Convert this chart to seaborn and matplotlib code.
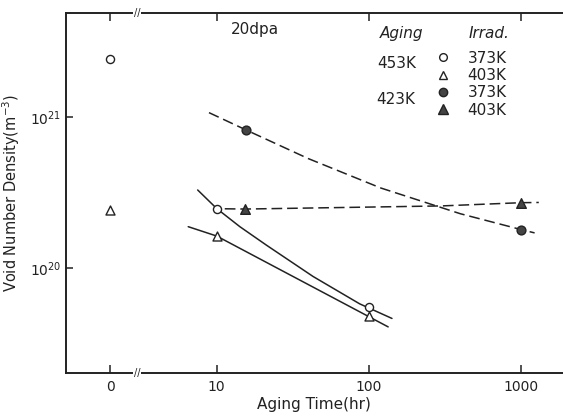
import matplotlib
matplotlib.use("Agg")
import matplotlib.pyplot as plt
import matplotlib.transforms as mtransforms
from matplotlib.lines import Line2D
import numpy as np
import seaborn as sns

sns.set_style("ticks")
plt.rcParams["font.family"] = ["DejaVu Sans"]

# measured points (aging time in hr, void number density in m^-3)
t_453_373 = [0, 10, 100]
n_453_373 = [2.42e21, 2.48e20, 5.5e19]
t_453_403 = [0, 10, 100]
n_453_403 = [2.42e20, 1.63e20, 4.8e19]
t_423_373 = [15.5, 1000]
n_423_373 = [8.2e20, 1.8e20]
t_423_403 = [15.4, 1000]
n_423_403 = [2.46e20, 2.71e20]

# guide curves
fit_453_373_t = [7.5, 10, 14.2, 21.2, 43, 87, 142]
fit_453_373_n = [3.29e20, 2.48e20, 1.88e20, 1.42e20, 8.8e19, 5.8e19, 4.64e19]
fit_453_403_t = [6.5, 10, 134]
fit_453_403_n = [1.88e20, 1.63e20, 4.08e19]
fit_423_373_t = [8.9, 15.5, 40, 120, 400, 1000, 1230]
fit_423_373_n = [1.07e21, 8.24e20, 5.31e20, 3.39e20, 2.29e20, 1.8e20, 1.71e20]
fit_423_403_t = [11.3, 15.4, 300, 1000, 1310]
fit_423_403_n = [2.47e20, 2.46e20, 2.58e20, 2.71e20, 2.72e20]

x_ticks = [0, 10, 100, 1000]
x_tick_labels = ["0", "10", "100", "1000"]
legend_labels = ["373K", "403K", "373K", "403K"]

ZERO_POS = 2.0  # where t=0 sits on the broken log axis
INK = "#222222"


def xpos(t):
    t = np.asarray(t, dtype=float)
    return np.where(t == 0, ZERO_POS, t)


fig = plt.figure(figsize=(5.63, 4.16), dpi=100)
ax = fig.add_axes([0.117, 0.1034, 0.883, 0.8654])
ax.set_xscale("log")
ax.set_yscale("log")

# guide lines
solid = dict(color=INK, lw=1.1, ax=ax)
sns.lineplot(x=fit_453_373_t, y=fit_453_373_n, **solid)
sns.lineplot(x=fit_453_403_t, y=fit_453_403_n, **solid)
dashed = dict(color=INK, lw=1.1, linestyle=(0, (7, 3.2)), ax=ax)
sns.lineplot(x=fit_423_373_t, y=fit_423_373_n, **dashed)
sns.lineplot(x=fit_423_403_t, y=fit_423_403_n, **dashed)

# points
series = [
    (t_453_373, n_453_373, "o", "white", 34),
    (t_453_403, n_453_403, "^", "white", 42),
    (t_423_373, n_423_373, "o", "#444444", 40),
    (t_423_403, n_423_403, "^", "#444444", 48),
]
handles = []
for t, n, m, fc, s in series:
    sns.scatterplot(x=xpos(t), y=n, marker=m, s=s, facecolor=fc,
                    edgecolor=INK, linewidth=1.0, zorder=3, ax=ax)
    handles.append(Line2D([], [], ls="none", marker=m, markersize=np.sqrt(s) * 0.95,
                          markerfacecolor=fc, markeredgecolor=INK, markeredgewidth=1.0))

ax.set_xlim(1.02, 1890)
ax.set_ylim(2.02e19, 4.89e21)

ax.set_xticks(xpos(x_ticks))
ax.set_xticklabels(x_tick_labels)
ax.xaxis.set_minor_locator(matplotlib.ticker.NullLocator())
ax.yaxis.set_minor_locator(matplotlib.ticker.NullLocator())
ax.set_yticks([1e20, 1e21])
ax.tick_params(axis="x", direction="in", top=True, length=6, width=1.1,
               labelsize=10, pad=5, colors=INK)
ax.tick_params(axis="y", direction="in", length=5, width=1.1, labelsize=10,
               pad=3, colors=INK)

for side in ["left", "top", "bottom"]:
    ax.spines[side].set_linewidth(1.4)
    ax.spines[side].set_color(INK)
ax.spines["right"].set_visible(False)

# axis break marks
brk = mtransforms.blended_transform_factory(ax.transData, ax.transAxes)
for yy in (0, 1):
    ax.text(3.0, yy, "//", transform=brk, ha="center", va="center", fontsize=7,
            color=INK, bbox=dict(facecolor="white", edgecolor="none", pad=0.5))

ax.set_xlabel("Aging Time(hr)", fontsize=11, color=INK, labelpad=2)
ax.set_ylabel("Void Number Density(m$^{-3}$)", fontsize=10.5, color=INK, labelpad=6)

ax.text(0.380, 0.953, "20dpa", transform=ax.transAxes, ha="center", va="center",
        fontsize=11, color=INK)
ax.text(0.676, 0.944, "Aging", transform=ax.transAxes, ha="center", va="center",
        fontsize=11, style="italic", color=INK)
ax.text(0.851, 0.944, "Irrad.", transform=ax.transAxes, ha="center", va="center",
        fontsize=11, style="italic", color=INK)
ax.text(0.665, 0.861, "453K", transform=ax.transAxes, ha="center", va="center",
        fontsize=11, color=INK)
ax.text(0.664, 0.761, "423K", transform=ax.transAxes, ha="center", va="center",
        fontsize=11, color=INK)

leg = ax.legend(handles, legend_labels, loc="upper left", bbox_to_anchor=(0.722, 0.925),
                frameon=False, fontsize=11, handlelength=1.0, handletextpad=1.1,
                labelspacing=0.15, borderpad=0.2)
for txt in leg.get_texts():
    txt.set_color(INK)

fig.savefig("out.png", dpi=100)
